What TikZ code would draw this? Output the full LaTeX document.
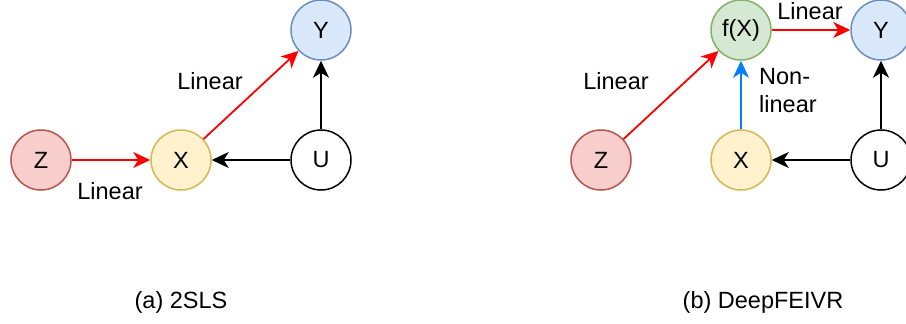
\documentclass[tikz,border=0pt]{standalone}
\usepackage{fontspec}
\setmainfont{Liberation Sans}
\usetikzlibrary{arrows.meta}
\definecolor{zfill}{HTML}{F8CECC}\definecolor{zdraw}{HTML}{B85450}
\definecolor{xfill}{HTML}{FFF2CC}\definecolor{xdraw}{HTML}{D6B656}
\definecolor{yfill}{HTML}{DAE8FC}\definecolor{ydraw}{HTML}{6C8EBF}
\definecolor{ffill}{HTML}{D5E8D4}\definecolor{fdraw}{HTML}{82B366}
\definecolor{linred}{HTML}{FF0000}\definecolor{nlblue}{HTML}{007FFF}
\tikzset{
  var/.style={circle, minimum size=60pt, inner sep=0pt, line width=1.5pt},
  zvar/.style={var, draw=zdraw, fill=zfill},
  xvar/.style={var, draw=xdraw, fill=xfill},
  yvar/.style={var, draw=ydraw, fill=yfill},
  fvar/.style={var, draw=fdraw, fill=ffill},
  uvar/.style={var, draw=black, fill=white},
  edge/.style={line width=1.8pt, -{Stealth[length=17pt, width=16pt, inset=5pt]}},
  lin/.style={edge, draw=linred},
  nonlin/.style={edge, draw=nlblue},
  conf/.style={edge, draw=black},
  lbl/.style={inner sep=0pt, align=left},
  every node/.style={font=\fontsize{23.5}{28}\selectfont}
}
\begin{document}
\begin{tikzpicture}[x=1pt, y=-1pt]
\useasboundingbox (0,0) rectangle (906,324);
\clip (0,0) rectangle (906,324);
% (a) two-stage least squares
\node[zvar] (za) at (41,160) {Z};
\node[xvar] (xa) at (181,160) {X};
\node[uvar] (ua) at (321,160) {U};
\node[yvar] (ya) at (321,30) {Y};
\draw[lin] (za) -- (xa);
\draw[lin] (xa) -- (ya);
\draw[conf] (ua) -- (xa);
\draw[conf] (ua) -- (ya);
\node[lbl] (la1) at (110,191) {Linear};
\node[lbl] (la2) at (210,81) {Linear};
\node[lbl] (capa) at (181,302) {(a) 2SLS};
% (b) DeepFEIVR
\node[zvar] (zb) at (601,160) {Z};
\node[fvar] (fb) at (741,30) {f(X)};
\node[xvar] (xb) at (741,160) {X};
\node[uvar] (ub) at (881,160) {U};
\node[yvar] (yb) at (881,30) {Y};
\draw[lin] (zb) -- (fb);
\draw[nonlin] (xb) -- (fb);
\draw[lin] (fb) -- (yb);
\draw[conf] (ub) -- (xb);
\draw[conf] (ub) -- (yb);
\node[lbl] (lb1) at (616,81) {Linear};
\node[lbl] (lb2) at (810,11) {Linear};
\node[lbl, anchor=west] (lb3) at (759,91) {Non-\\linear};
\node[lbl] (capb) at (763,302) {(b) DeepFEIVR};
\end{tikzpicture}
\end{document}
